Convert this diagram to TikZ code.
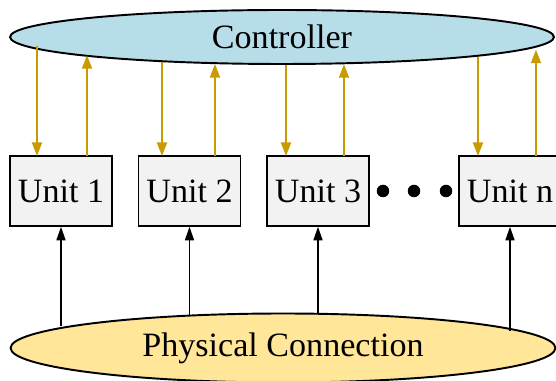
\documentclass[tikz,border=0pt]{standalone}
\usepackage{fontspec}
\setmainfont{Liberation Serif}
\usetikzlibrary{shapes.geometric,arrows.meta}

\definecolor{ctrlblue}{RGB}{183,221,232}
\definecolor{physyellow}{RGB}{255,230,153}
\definecolor{unitgray}{RGB}{242,242,242}
\definecolor{linkgold}{RGB}{200,155,0}

\tikzset{
  unitbox/.style={draw,fill=unitgray,line width=0.9pt,minimum width=2.04cm,minimum height=1.4cm,inner sep=0pt},
  bigoval/.style={ellipse,draw,line width=1.1pt,inner sep=0pt},
  ctrllink/.style={linkgold,line width=1pt,-{Triangle[length=0.27cm,width=0.2cm]}},
  physlink/.style={black,line width=0.9pt,-{Triangle[length=0.27cm,width=0.18cm]}},
  dotmark/.style={circle,fill=black,inner sep=0pt,minimum size=0.25cm}
}

\begin{document}
\begin{tikzpicture}[x=0.02cm,y=-0.02cm,font=\fontsize{19.4}{23}\selectfont]
            \useasboundingbox (0,0) rectangle (556,381);
            \node [bigoval,fill=ctrlblue,minimum width=10.88cm,minimum height=1.08cm] (ctrl) at (282,37) {Controller};
            \node [bigoval,fill=physyellow,minimum width=10.9cm,minimum height=1.38cm] (phys) at (283,348) {Physical Connection};
            \node [unitbox] (u1) at (61,191) {Unit 1};
            \node [unitbox] (u2) at (189.5,191) {Unit 2};
            \node [unitbox] (u3) at (318,191) {Unit 3};
            \node [unitbox] (un) at (510,191) {Unit n};
            \node [dotmark] (d1) at (383,191) {};
            \node [dotmark] (d2) at (414,191) {};
            \node [dotmark] (d3) at (446,191) {};
            % controller <-> units
            \coordinate (a1) at (37,156);
            \coordinate (b1) at (87,156);
            \coordinate (a2) at (162,156);
            \coordinate (b2) at (215,156);
            \coordinate (a3) at (286,156);
            \coordinate (b3) at (344,156);
            \coordinate (an) at (478,156);
            \coordinate (bn) at (536,156);
            \draw [ctrllink] (a1 |- ctrl.182.7) -- (a1);
            \draw [ctrllink] (b1) -- (b1 |- ctrl.185.5);
            \draw [ctrllink] (a2 |- ctrl.191.4) -- (a2);
            \draw [ctrllink] (b2) -- (b2 |- ctrl.201.4);
            \draw [ctrllink] (a3 |- ctrl.278.4) -- (a3);
            \draw [ctrllink] (b3) -- (b3 |- ctrl.337);
            \draw [ctrllink] (an |- ctrl.354.5) -- (an);
            \draw [ctrllink] (bn) -- (bn |- ctrl.357.8);
            % physical connection -> units
            \draw [physlink] (u1.south |- phys.174.9) -- (u1.south);
            \draw [physlink] (u2.south |- phys.161.2) -- (u2.south);
            \draw [physlink] (u3.south |- phys.43.9) -- (u3.south);
            \draw [physlink] (un.south |- phys.4.7) -- (un.south);
        \end{tikzpicture}
\end{document}
